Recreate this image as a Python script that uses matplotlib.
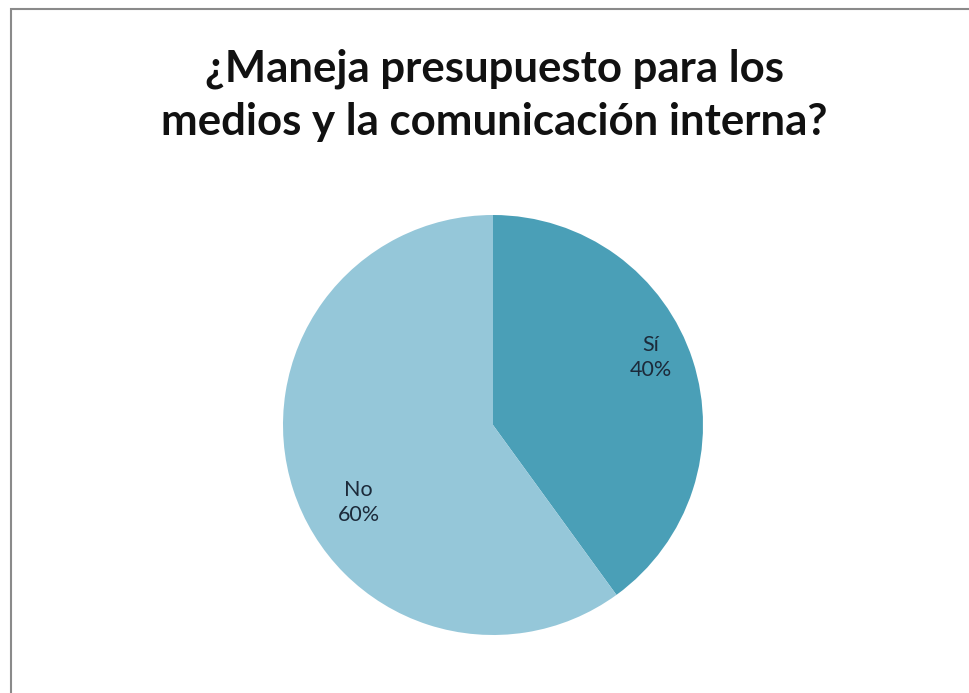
import matplotlib.pyplot as plt
from matplotlib.patches import Rectangle

labels = ["Sí", "No"]
values = [40, 60]
colors = ["#4a9fb7", "#95c7d9"]
title = "¿Maneja presupuesto para los\nmedios y la comunicación interna?"

fig = plt.figure(figsize=(9.7, 6.93), dpi=100)
fig.patch.set_facecolor("white")

# outer frame of the chart area
fig.add_artist(Rectangle((11 / 970, -0.05), 1.2, 1 - 9 / 693 + 0.05,
                         transform=fig.transFigure, fill=False,
                         edgecolor="#8a8a8a", linewidth=1.5))

fig.text(0.510, 0.930, title, ha="center", va="top", fontsize=31.5,
         fontweight="bold", family="Lato", linespacing=1.4, color="#111111")

# pie: center (493, 425) px, radius 210 px
r = 210
cx, cy = 493, 425
ax = fig.add_axes([(cx - r) / 970, (693 - cy - r) / 693, 2 * r / 970, 2 * r / 693])
wedges, texts = ax.pie(values, colors=colors, startangle=90, counterclock=False,
                       radius=1.0, wedgeprops=dict(linewidth=0))
ax.set_xlim(-1, 1)
ax.set_ylim(-1, 1)
ax.set_aspect("auto")

for lab, v, pos in zip(labels, values, [(0.75, 0.32), (-0.64, -0.37)]):
    ax.text(pos[0], pos[1], f"{lab}\n{v}%", ha="center", va="center",
            fontsize=15.5, family="Lato", color="#1c2a3a", linespacing=1.3)

fig.savefig("out.png", dpi=100)
